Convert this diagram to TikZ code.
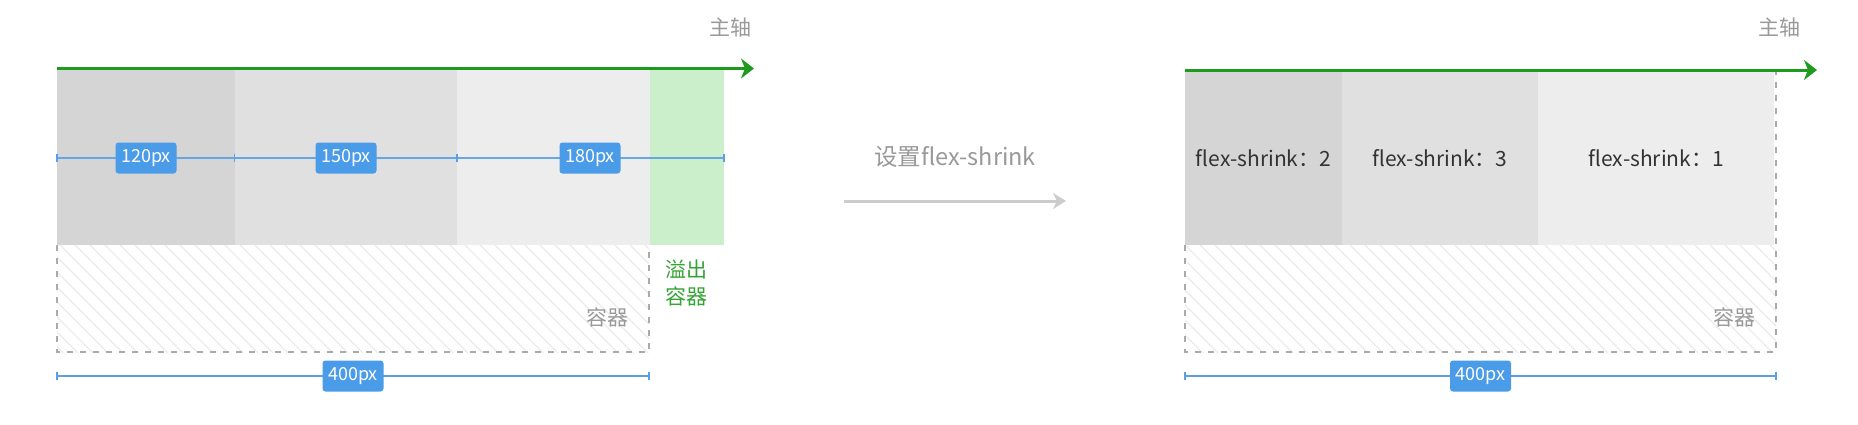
\documentclass[tikz,border=0pt]{standalone}
\usepackage{fontspec}
\setmainfont{Noto Sans CJK SC}
\usetikzlibrary{arrows.meta}
\definecolor{axisgreen}{HTML}{1E9A1E}
\definecolor{ovgreen}{HTML}{CBEFCA}
\definecolor{txtgreen}{HTML}{35A335}
\definecolor{dimblue}{HTML}{5A9FE6}
\definecolor{tagblue}{HTML}{4A9BE8}
\definecolor{boxa}{HTML}{D5D5D5}
\definecolor{boxb}{HTML}{E0E0E0}
\definecolor{boxc}{HTML}{EDEDED}
\definecolor{hatchgray}{HTML}{EAEAEA}
\definecolor{dashgray}{HTML}{AAAAAA}
\definecolor{labelgray}{HTML}{999999}
\definecolor{arrowgray}{HTML}{CCCCCC}
\definecolor{darktext}{HTML}{333333}
\begin{document}
\begin{tikzpicture}[x=1pt,y=-1pt,
  tag/.style={fill=tagblue, rounded corners=3pt, text=white, minimum width=61pt, minimum height=31pt, inner sep=0pt, font=\fontsize{18}{18}\selectfont},
  dimline/.style={draw=dimblue, line width=1.5pt},
  dimtick/.style={draw=dimblue, line width=1.5pt},
  mainaxis/.style={draw=axisgreen, line width=3pt, -{Stealth[length=13pt,width=20pt,inset=4pt]}},
  steparrow/.style={draw=arrowgray, line width=3pt, -{Stealth[length=13pt,width=16pt,inset=4pt]}},
  flexbox/.style={draw=none, inner sep=0pt, anchor=north west, minimum height=175pt},
  container/.style={draw=dashgray, line width=2pt, dash pattern=on 6pt off 7pt},
  hatchline/.style={draw=hatchgray, line width=1.3pt},
  graytext/.style={text=labelgray, font=\fontsize{21}{21}\selectfont, inner sep=0pt},
  greentext/.style={text=txtgreen, font=\fontsize{21}{27}\selectfont, inner sep=0pt, align=center},
  shrinktext/.style={text=darktext, font=\fontsize{21}{21}\selectfont},
]
\useasboundingbox (0,0) rectangle (1858,424);

% ---------------- LEFT DIAGRAM ----------------
% hatched container
\begin{scope}
  \clip (57,245) rectangle (649,352);
  \foreach \i in {-120,-105,...,660} \draw[hatchline] (\i,245) -- ++(110,110);
\end{scope}
\draw[container] (57,245) -- (57,352) -- (649,352) -- (649,245);

% flex items
\node[flexbox, fill=boxa, minimum width=177.7pt] (la) at (57,70) {};
\node[flexbox, fill=boxb, minimum width=222.3pt] (lb) at (234.7,70) {};
\node[flexbox, fill=boxc, minimum width=192.4pt] (lc) at (457,70) {};
\node[flexbox, fill=ovgreen, minimum width=74.6pt] (lov) at (649.4,70) {};

% main axis
\coordinate (laxs) at (57,68.5);
\coordinate (laxe) at (754,68.5);
\draw[mainaxis] (laxs) -- (laxe);
\node[graytext] (lmain) at (730,28) {主轴};

% item widths
\coordinate (ld0) at (57,158);
\coordinate (ld1) at (234.7,158);
\coordinate (ld2) at (457,158);
\coordinate (ld3) at (724,158);
\draw[dimline, opacity=0.9] (ld0) -- (ld3);
\foreach \c in {ld0,ld1,ld2,ld3} \draw[dimtick] ([yshift=-4pt]\c) -- ([yshift=4pt]\c);
\node[tag] (t120) at (146,158) {120px};
\node[tag] (t150) at (346,158) {150px};
\node[tag] (t180) at (590,158) {180px};

% labels
\node[graytext] (lcont) at (607,317) {容器};
\node[greentext] (lover) at (686,283.5) {溢出\\容器};

% container width
\coordinate (lw0) at (57,376);
\coordinate (lw1) at (649,376);
\draw[dimline] (lw0) -- (lw1);
\foreach \c in {lw0,lw1} \draw[dimtick] ([yshift=-4pt]\c) -- ([yshift=4pt]\c);
\node[tag] (t400l) at (353,376) {400px};

% ---------------- MIDDLE ----------------
\node[text=labelgray, font=\fontsize{23.5}{23.5}\selectfont, inner sep=0pt] (setlbl) at (955,157) {设置flex-shrink};
\coordinate (ms) at (844,201);
\coordinate (me) at (1066,201);
\draw[steparrow] (ms) -- (me);

% ---------------- RIGHT DIAGRAM ----------------
\begin{scope}
  \clip (1185,245) rectangle (1776,352);
  \foreach \i in {1050,1065,...,1790} \draw[hatchline] (\i,245) -- ++(110,110);
\end{scope}
\draw[container] (1185,245) -- (1185,352) -- (1776,352) -- (1776,70);

\node[flexbox, fill=boxa, minimum width=156.5pt] (ra) at (1185,70) {};
\node[flexbox, fill=boxb, minimum width=196.5pt] (rb) at (1341.5,70) {};
\node[flexbox, fill=boxc, minimum width=236pt] (rc) at (1538,70) {};
\node[shrinktext] at (ra.center) {flex-shrink：2};
\node[shrinktext] at (rb.center) {flex-shrink：3};
\node[shrinktext] at (rc.center) {flex-shrink：1};

\coordinate (raxs) at (1185,70);
\coordinate (raxe) at (1817,70);
\draw[mainaxis] (raxs) -- (raxe);
\node[graytext] (rmain) at (1779,28) {主轴};

\node[graytext] (rcont) at (1734,317) {容器};

\coordinate (rw0) at (1185,376);
\coordinate (rw1) at (1776,376);
\draw[dimline] (rw0) -- (rw1);
\foreach \c in {rw0,rw1} \draw[dimtick] ([yshift=-4pt]\c) -- ([yshift=4pt]\c);
\node[tag] (t400r) at (1480.5,376) {400px};
\end{tikzpicture}
\end{document}
